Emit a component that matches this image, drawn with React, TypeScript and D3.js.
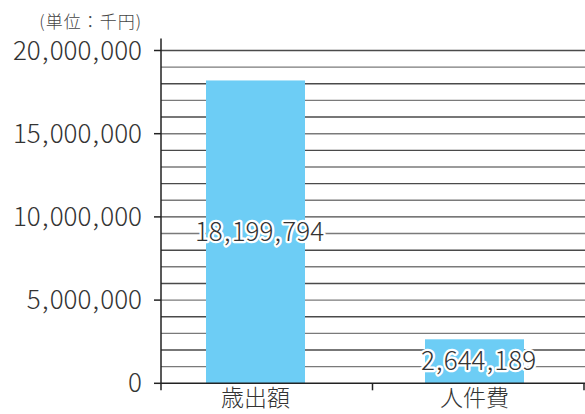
import React from "react";
import * as d3 from "d3";

const categories = ["歳出額", "人件費"];
const values = [18199794, 2644189];
const yTicks = [0, 5000000, 10000000, 15000000, 20000000];
const gridValues = d3.range(1, 21).map((d) => d * 1000000);
const unitLabel = "(単位：千円)";

const W = 585;
const H = 414;
const left = 161;
const right = 584;
const top = 50.5;
const bottom = 383.3;
const FONT = "'Noto Sans CJK JP', 'Noto Sans', sans-serif";

function Num({ s }: { s: string }) {
  const parts = s.split(",");
  return (
    <>
      {parts.map((p, i) => (
        <React.Fragment key={i}>
          {i > 0 && <tspan dx={1.2}>,</tspan>}
          <tspan dx={i > 0 ? 1.2 : 0}>{p}</tspan>
        </React.Fragment>
      ))}
    </>
  );
}

export default function App() {
  const y = d3.scaleLinear().domain([0, 20000000]).range([bottom, top]);
  const xFrame = d3.scaleBand().domain(categories).range([left, right]);
  const xBar = d3
    .scaleBand()
    .domain(categories)
    .range([146, 584])
    .paddingInner(0.548)
    .paddingOuter(0.274);
  const fmt = d3.format(",");
  return (
    <svg
      width={W}
      height={H}
      style={{ position: "absolute", left: 0, top: 0, background: "#fff" }}
      fontFamily={FONT}
    >
      {gridValues.map((g, i) => (
        <line
          key={"g" + g}
          x1={left}
          x2={W}
          y1={y(g)}
          y2={y(g)}
          stroke={i % 2 === 0 ? "#7a7a7a" : "#4a4a4a"}
          strokeWidth={1.4}
        />
      ))}
      {categories.map((c, i) => {
        const bw = xBar.bandwidth();
        const x0 = xBar(c)!;
        return (
          <rect
            key={c}
            x={x0}
            y={y(values[i])}
            width={bw}
            height={bottom - y(values[i])}
            fill="#6dcdf5"
          />
        );
      })}
      <line x1={left} x2={left} y1={top - 12} y2={bottom + 7} stroke="#222" strokeWidth={1.5} />
      <line x1={left} x2={W} y1={bottom} y2={bottom} stroke="#222" strokeWidth={1.5} />
      {yTicks.map((t) => (
        <g key={"t" + t}>
          <line x1={left - 7} x2={left} y1={y(t)} y2={y(t)} stroke="#222" strokeWidth={1.5} />
          <text
            x={142}
            y={y(t)}
            dy="0.35em"
            textAnchor="end"
            fontSize={26}
            fontWeight={300}
            fill="#333"
          >
            <Num s={fmt(t)} />
          </text>
        </g>
      ))}
      {[...categories.map((c) => xFrame(c)!), right].map((x, i) =>
        i === 0 ? null : (
          <line key={"ct" + i} x1={x} x2={x} y1={bottom} y2={bottom + 7} stroke="#222" strokeWidth={1.5} />
        )
      )}
      {categories.map((c) => (
        <text
          key={"cl" + c}
          x={xBar(c)! + xBar.bandwidth() / 2}
          y={406}
          textAnchor="middle"
          fontSize={23}
          fontWeight={300}
          fill="#333"
        >
          {c}
        </text>
      ))}
      {categories.map((c, i) => (
        <text
          key={"vl" + c}
          x={xBar(c)! + xBar.bandwidth() / 2 + 4}
          y={(y(values[i]) + bottom) / 2}
          dy="0.35em"
          textAnchor="middle"
          fontSize={26}
          fontWeight={300}
          fill="#333"
          stroke="#fff"
          strokeWidth={4.5}
          strokeLinejoin="round"
          style={{ paintOrder: "stroke" }}
        >
          <Num s={fmt(values[i])} />
        </text>
      ))}
      <text x={142} y={28} textAnchor="end" fontSize={17} fontWeight={300} letterSpacing={1} fill="#444">
        {unitLabel}
      </text>
    </svg>
  );
}
